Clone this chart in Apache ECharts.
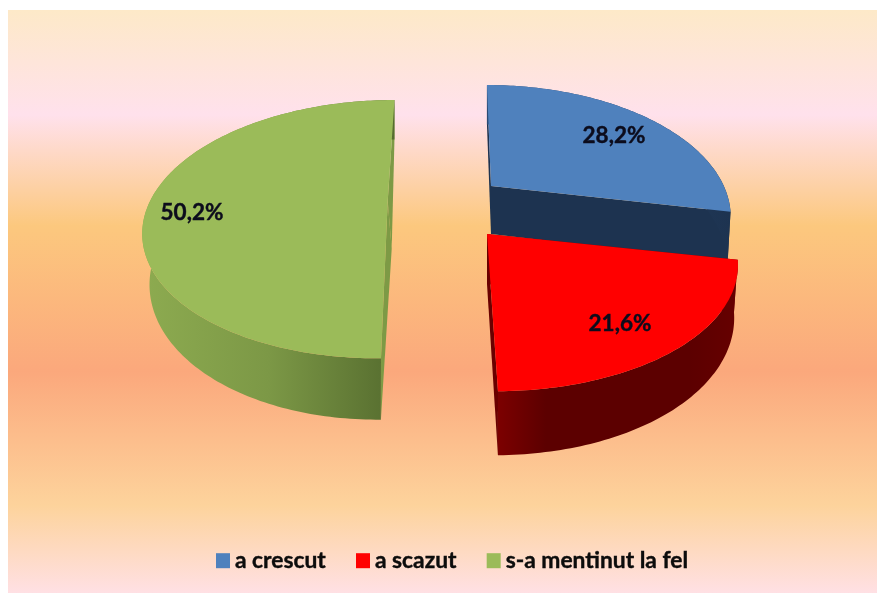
<!DOCTYPE html>
<html>
<head>
<meta charset="utf-8">
<title>pie</title>
<style>
    html, body { margin: 0; padding: 0; background: #fff; }
    #chart { width: 877px; height: 593px; }
</style>
<script src="https://cdn.jsdelivr.net/npm/echarts@6/dist/echarts.min.js"></script>
</head>
<body>
<div id="chart"></div>
<script>
var categories = ['a crescut', 'a scazut', 's-a mentinut la fel'];
var values = [28.2, 21.6, 50.2];
var topColors = ['#4f81bd', '#ff0000', '#9bbb59'];

// look of each slice: where its tip sits, how much it leans, and where the label goes
var sliceStyles = [
    {cx: 491, cy: 186, scale: 0.97, lean: 0.04, depth: 48, shrink: 0.012, tipShift: 0, label: [614, 136], cut: '#1d3350',
        wall: ['#2a4a75', '#1d3350']},
    {cx: 487, cy: 234, scale: 1.015, lean: 0.045, depth: 50, shrink: 0.015, tipShift: 0, label: [620, 324], cut: '#6a0000',
        wall: ['#7c0000', '#5c0000', '#5c0000', '#5c0000', '#5c0000', '#660000']},
    {cx: 387.7, cy: 201, scale: 0.99, lean: -0.067, depth: 48, shrink: 0.03, tipShift: 4, label: [192, 213], cut: '#7d9a45',
        wall: ['#8dab50', '#7c9846', '#566d2f']}
];

// fake perspective of the pie
var radius = 240;
var radiusY = 123;
var perspective = 0.218;

var startAngles = [];
var sum = 0;
values.forEach(function(v) {
    startAngles.push(sum / 100 * Math.PI * 2);
    sum += v;
});

// r is 0 at the tip and 1 on the rim, lower says top face (0) or bottom face (1)
function project(slice, r, angle, lower) {
    var u = r * Math.sin(angle), v = -r * Math.cos(angle);
    var s = 1 / (1 - perspective * v);
    var y = radiusY * v * s;
    return [
        slice.cx + radius * slice.scale * u * s * (1 - slice.shrink * lower) + slice.lean * y,
        slice.cy + y + slice.depth * lower * s
    ];
}

function arcPoints(slice, from, to, lower) {
    var points = [], n = Math.ceil(Math.abs(to - from) / (Math.PI / 180));
    for (var i = 0; i <= n; i++) {
        points.push(project(slice, 1, from + (to - from) * i / n, lower));
    }
    return points;
}

function cutWall(slice, angle) {
    var tipBottom = project(slice, 0, angle, 1);
    tipBottom[0] += slice.tipShift;
    return {
        type: 'polygon',
        shape: {points: [
            project(slice, 0, angle, 0), project(slice, 1, angle, 0),
            project(slice, 1, angle, 1), tipBottom
        ]},
        style: {fill: slice.cut}
    };
}

function makeRenderItem(index) {
    return function(params, api) {
        var slice = sliceStyles[index];
        var from = startAngles[index];
        var to = from + api.value(0) / 100 * Math.PI * 2;
        var stops = slice.wall.map(function(c, i) {
            return {offset: i / (slice.wall.length - 1), color: c};
        });
        var top = arcPoints(slice, from, to, 0);
        var bottom = arcPoints(slice, to, from, 1);
        return {
            type: 'group',
            children: [
                cutWall(slice, from),
                cutWall(slice, to),
                {
                    type: 'polygon',
                    shape: {points: top.concat(bottom)},
                    style: {fill: new echarts.graphic.LinearGradient(0, 0, 1, 0, stops)}
                },
                {
                    type: 'polygon',
                    shape: {points: [project(slice, 0, from, 0)].concat(top)},
                    style: {fill: topColors[index]}
                },
                {
                    type: 'text',
                    style: {
                        x: slice.label[0],
                        y: slice.label[1],
                        text: api.value(0).toFixed(1).replace('.', ',') + '%',
                        fill: '#0c0c1c',
                        stroke: '#0c0c1c',
                        lineWidth: 0.4,
                        font: 'bold 22.5px Lato',
                        align: 'center',
                        verticalAlign: 'middle'
                    }
                }
            ]
        };
    };
}

var myChart = echarts.init(document.getElementById('chart'));

var option = {
    animation: false,
    graphic: [{
        type: 'rect',
        z: -10,
        shape: {x: 8, y: 10, width: 869, height: 583},
        style: {
            fill: new echarts.graphic.LinearGradient(0, 0, 0, 1, [
                {offset: 0, color: '#fde9c8'},
                {offset: 0.18, color: '#ffe1ec'},
                {offset: 0.37, color: '#fcc87e'},
                {offset: 0.62, color: '#fba87c'},
                {offset: 0.85, color: '#fdd39c'},
                {offset: 1, color: '#ffe0e4'}
            ])
        }
    }],
    legend: {
        left: 211,
        top: 544,
        icon: 'rect',
        itemWidth: 14,
        itemHeight: 15,
        itemGap: 30,
        textStyle: {
            fontFamily: 'Lato',
            fontWeight: 'bold',
            fontSize: 22.8,
            color: '#0c0c0c',
            textBorderColor: '#0c0c0c',
            textBorderWidth: 0.4
        },
        data: categories
    },
    series: categories.map(function(name, i) {
        return {
            name: name,
            type: 'custom',
            coordinateSystem: 'none',
            silent: true,
            itemStyle: {color: topColors[i]},
            renderItem: makeRenderItem(i),
            data: [[values[i]]]
        };
    })
};

myChart.setOption(option);
</script>
</body>
</html>
